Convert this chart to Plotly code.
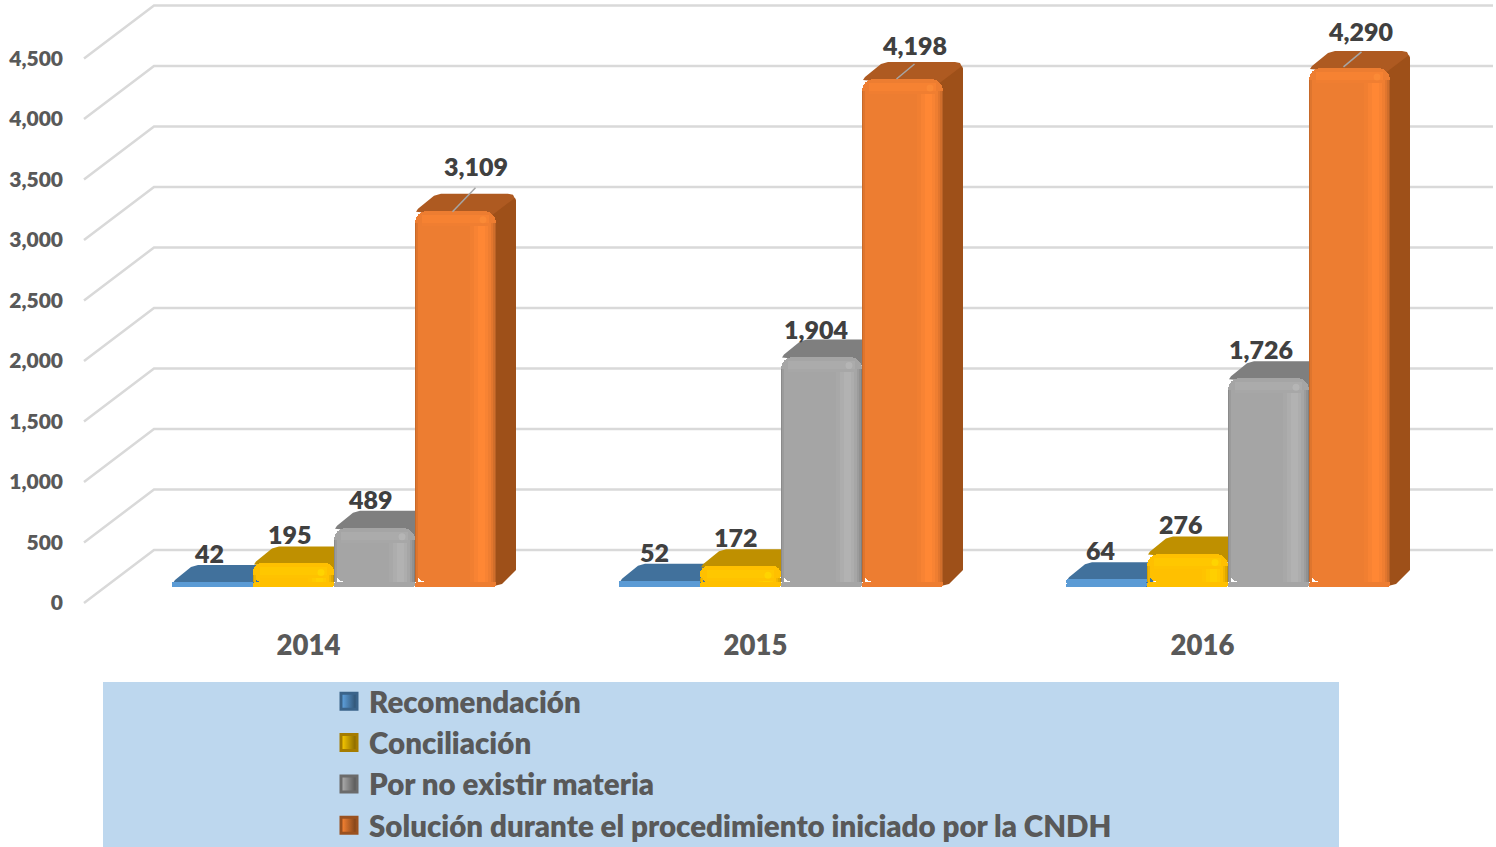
import plotly.graph_objects as go

YEARS = ["2014", "2015", "2016"]
SERIES = ["Recomendación", "Conciliación", "Por no existir materia",
          "Solución durante el procedimiento iniciado por la CNDH"]
RECOMENDACION = [42, 52, 64]
CONCILIACION = [195, 172, 276]
NO_MATERIA = [489, 1904, 1726]
SOLUCION = [3109, 4198, 4290]
VALUES = [RECOMENDACION, CONCILIACION, NO_MATERIA, SOLUCION]
TICKS = [0, 500, 1000, 1500, 2000, 2500, 3000, 3500, 4000, 4500]

# styles
FRONT = ["#5B9BD5", "#FFC000", "#A5A5A5", "#ED7D31"]
TOPF = ["#41719C", "#BF9000", "#7F7F7F", "#AE5A21"]
SIDE = ["#3A6690", "#A87F00", "#6E6E6E", "#9E5019"]
TXT = "#595959"
LBL = "#404040"
FONT = "Lato"
WEIGHT = 800

# geometry in pixels -> data units
W_PX, H_PX = 1496, 847
PL, PB = 70, 626
GROUP_PX, X0_PX = 447.0, 334.0
S = 0.121                 # px per value unit
Y0_TICK, Y0_BAR = 603, 587
BAR_PX = 81.0


def ux(px):
    return px / GROUP_PX


def uy(px):
    return px / S


def xp(px):
    return (px - X0_PX) / GROUP_PX


XR = [xp(PL), xp(W_PX)]
YR_TICK = [-(PB - Y0_TICK) / S, Y0_TICK / S]
YR_BAR = [-(PB - Y0_BAR) / S, Y0_BAR / S]


def mix(hexc, t):
    r, g, b = (int(hexc[i:i + 2], 16) for i in (1, 3, 5))
    if t > 0:
        return "rgb(%d,%d,%d)" % (min(255, r * (1 + t)), min(255, g * (1 + t)), min(255, b * (1 + t)))
    a = 1 + t
    return "rgb(%d,%d,%d)" % (r * a, g * a, b * a)


def bar_x(g, k):
    return g + (k - 1.5) * ux(BAR_PX)


fig = go.Figure()

# gridlines: floor diagonal + back wall
gx, gy = [], []
GD = uy(53)
for t in TICKS:
    gx += [xp(84), xp(154), xp(1493), None]
    gy += [t, t + GD, t + GD, None]
fig.add_trace(go.Scatter(x=gx, y=gy, mode="lines", xaxis="x", yaxis="y", showlegend=False,
                         hoverinfo="skip", line=dict(color="#D9D9D9", width=2.5)))

# depth faces
DX, DY = 20.0, 17.0
for k, vals in enumerate(VALUES):
    tx, ty, sx, sy = [], [], [], []
    for g, v in enumerate(vals):
        c = bar_x(g, k)
        x0, x1 = c - ux(BAR_PX / 2), c + ux(BAR_PX / 2)
        top = [(x0 + ux(1), -1), (x0 + ux(3), 2), (x0 + ux(DX - 1), DY - 2), (x0 + ux(DX + 6), DY),
               (x1 + ux(DX - 8), DY), (x1 + ux(DX - 3), DY - 1), (x1 + ux(DX), DY - 7), (x1, -9)]
        for a, b in top:
            tx.append(a)
            ty.append(max(v + uy(b), 0))
        tx.append(None)
        ty.append(None)
        sx += [x1 - ux(6), x1 + ux(DX - 1), x1 + ux(DX), x1 + ux(DX), x1 + ux(6), x1 - ux(6), None]
        sy += [max(v + uy(-6), 0), v + uy(DY - 4), v + uy(DY - 7), uy(DY), uy(3), 0, None]
    fig.add_trace(go.Scatter(x=tx, y=ty, mode="lines", fill="toself", fillcolor=TOPF[k], xaxis="x", yaxis="y2",
                             line=dict(width=0, color=TOPF[k]), showlegend=False, hoverinfo="skip"))
    if k == len(VALUES) - 1:   # only the last bar of a group shows its side
        fig.add_trace(go.Scatter(x=sx, y=sy, mode="lines", fill="toself", fillcolor=SIDE[k], xaxis="x", yaxis="y2",
                                 line=dict(width=0, color=SIDE[k]), showlegend=False, hoverinfo="skip"))

# horizontal bevel profile of the front face: (from px, to px, tint)
PROFILE = [(0, 1, -0.16), (1, 3, -0.06), (55, 59, 0.02), (59, 63, 0.05), (63, 70, 0.08), (70, 73, 0.05),
           (73, 76, 0.01), (76, 78, -0.05), (78, 80, -0.12), (80, 81, -0.22)]
BANDS = [(-15, -12, 0.015), (-12, -4, 0.04)]
FOOT = 5.0
RADIUS = 12

for k, vals in enumerate(VALUES):
    centers = [bar_x(g, k) for g in range(3)]
    foot = [min(v * S / 2, FOOT) for v in vals]
    # rounded foot (bar growing downward from its base)
    fig.add_trace(go.Bar(x=centers, y=[-uy(f) for f in foot], base=[uy(f) for f in foot], width=ux(BAR_PX),
                         marker=dict(color=FRONT[k], cornerradius=5, line=dict(width=0)),
                         xaxis="x2", yaxis="y3", showlegend=False, hoverinfo="skip"))
    # main face
    fig.add_trace(go.Bar(x=centers, y=[v - uy(f) for v, f in zip(vals, foot)], base=[uy(f) for f in foot],
                         width=ux(BAR_PX),
                         marker=dict(color=FRONT[k], cornerradius=RADIUS, line=dict(width=0)),
                         xaxis="x2", yaxis="y3", showlegend=False, hoverinfo="skip"))
    # vertical bevel strips
    for a, b, t in PROFILE:
        top = [max(v - uy(RADIUS), uy(f)) for v, f in zip(vals, foot)]
        fig.add_trace(go.Bar(x=centers, y=[tp - uy(f) for tp, f in zip(top, foot)], base=[uy(f) for f in foot],
                             width=ux(b - a), offset=ux(a - BAR_PX / 2),
                             marker=dict(color=mix(FRONT[k], t), line=dict(width=0)),
                             xaxis="x2", yaxis="y3", showlegend=False, hoverinfo="skip"))
    # horizontal bevel bands below the top edge
    for a, b, t in BANDS:
        bot = [max(v + uy(a), uy(f)) for v, f in zip(vals, foot)]
        tp = [max(v + uy(b), uy(f)) for v, f in zip(vals, foot)]
        fig.add_trace(go.Bar(x=centers, y=[p - q for p, q in zip(tp, bot)], base=bot,
                             width=ux(BAR_PX - 14), offset=ux(-BAR_PX / 2 + 7),
                             marker=dict(color=mix(FRONT[k], t), line=dict(width=0)),
                             xaxis="x2", yaxis="y3", showlegend=False, hoverinfo="skip"))
    # corner glint
    if k > 0:
        fig.add_trace(go.Scatter(x=[c + ux(BAR_PX / 2 - 13) for c in centers], y=[v - uy(9) for v in vals],
                                 mode="markers", xaxis="x2", yaxis="y3", showlegend=False, hoverinfo="skip",
                                 marker=dict(size=7, color=mix(FRONT[k], 0.15), opacity=0.6, line=dict(width=0))))

# leader lines on the orange bars
LEAD = [((-3, 1), (20, -23)), ((-6, 0), (12, -15)), ((-6, -1), (12, -16))]
lx, ly = [], []
for g, v in enumerate(SOLUCION):
    c = bar_x(g, 3)
    (a, b), (d, e) = LEAD[g]
    lx += [c + ux(a), c + ux(d), None]
    ly += [v - uy(b), v - uy(e), None]
fig.add_trace(go.Scatter(x=lx, y=ly, mode="lines", xaxis="x2", yaxis="y3", showlegend=False, hoverinfo="skip",
                         line=dict(color="#A6A6A6", width=1.5)))

# legend entries
for k, name in enumerate(SERIES):
    fig.add_trace(go.Scatter(x=[None], y=[None], mode="markers", name=name, xaxis="x", yaxis="y",
                             marker=dict(symbol="square", size=16, color=mix(FRONT[k], 0.08),
                                         gradient=dict(type="horizontal", color=mix(FRONT[k], -0.5)),
                                         line=dict(width=3, color=mix(FRONT[k], -0.35)))))

# data labels
LABEL_OFF = [[(-4, 29), (-5.5, 29), (-6, 29)],
             [(-4, 29), (-5, 29), (-7, 30)],
             [(-4, 29), (-6, 28), (-8, 29)],
             [(20, 45), (12, 34), (11, 37)]]
anns = []
for k, vals in enumerate(VALUES):
    for g, v in enumerate(vals):
        dx, dy = LABEL_OFF[k][g]
        anns.append(dict(x=bar_x(g, k), y=v, xref="x2", yref="y3", text=f"{v:,}", showarrow=False,
                         xshift=dx, yshift=dy, font=dict(family=FONT, size=25, color=LBL, weight=WEIGHT)))

LABEL_SHIFT = 25.5 / GROUP_PX
hidden = dict(visible=False, fixedrange=True)
fig.update_layout(
    width=W_PX, height=H_PX, margin=dict(l=0, r=0, t=0, b=0, autoexpand=False), autosize=False,
    paper_bgcolor="white", plot_bgcolor="rgba(0,0,0,0)",
    barmode="overlay", bargap=0,
    font=dict(family=FONT, color=TXT),
    annotations=anns,
    shapes=[dict(type="rect", xref="paper", yref="paper", x0=103 / W_PX, x1=1339 / W_PX, y0=0, y1=1 - 682 / H_PX,
                 fillcolor="#BDD7EE", line=dict(width=0), layer="below")],
    legend=dict(x=329 / W_PX, y=1 - 675.5 / H_PX, xanchor="left", yanchor="top", bgcolor="rgba(0,0,0,0)",
                borderwidth=0, traceorder="normal", itemclick=False, itemdoubleclick=False,
                font=dict(family=FONT, size=29.5, color=TXT, weight=WEIGHT)),
    xaxis=dict(domain=[PL / W_PX, 1], range=XR, showgrid=False, zeroline=False, showline=False, ticks="",
               tickmode="array", tickvals=[i - LABEL_SHIFT for i in range(3)], ticktext=YEARS,
               tickfont=dict(family=FONT, size=27.5, color=TXT, weight=WEIGHT), fixedrange=True),
    yaxis=dict(domain=[1 - PB / H_PX, 1], range=YR_TICK, showgrid=False, zeroline=False, showline=False, ticks="",
               tickmode="array", tickvals=TICKS, ticktext=[f"{t:,}" for t in TICKS], ticklabelstandoff=6,
               tickfont=dict(family=FONT, size=21, color=TXT, weight=WEIGHT), fixedrange=True),
    yaxis2=dict(overlaying="y", range=YR_BAR, **hidden),
    xaxis2=dict(overlaying="x", range=XR, **hidden),
    yaxis3=dict(overlaying="y", range=YR_BAR, **hidden),
)
fig.write_html("out.html", config=dict(displayModeBar=False), post_script="document.body.style.margin='0';")
